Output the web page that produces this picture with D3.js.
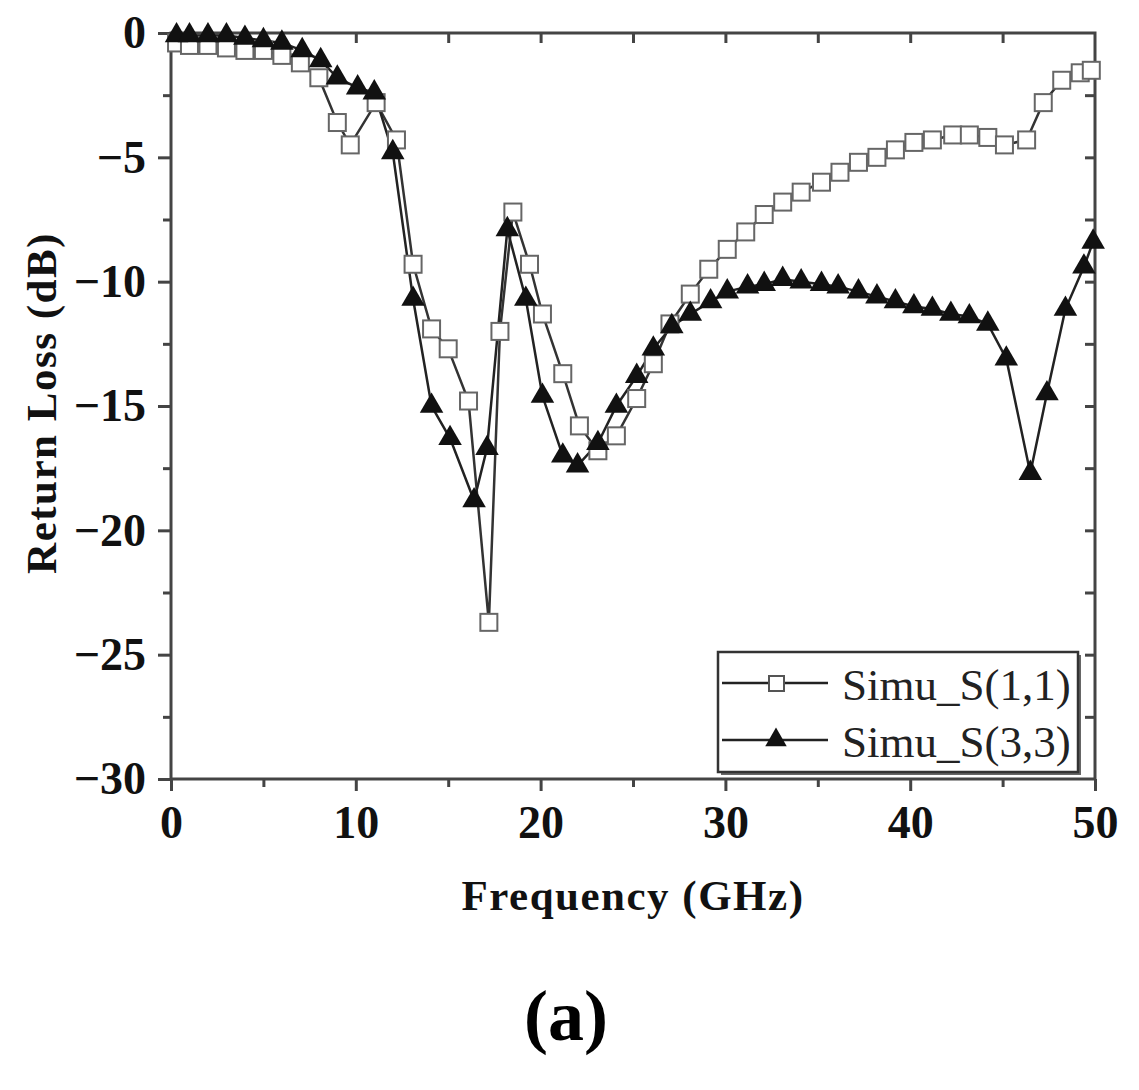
<!DOCTYPE html>
<html>
<head>
<meta charset="utf-8">
<script src="https://cdn.jsdelivr.net/npm/d3@7"></script>
<style>
  body { margin: 0; background: #fff; }
  svg { display: block; }
</style>
</head>
<body>
<div id="chart"></div>
<script>
// values (GHz, dB)
var s11Freq = [0.3, 1, 2, 3, 4, 5, 6, 7, 8, 9, 9.7, 11.1, 12.2, 13.1, 14.1, 15.0, 16.1, 17.2, 17.8, 18.5,
  19.4, 20.1, 21.2, 22.1, 23.1, 24.1, 25.2, 26.1, 27.0, 28.1, 29.1, 30.1, 31.1, 32.1, 33.1, 34.1,
  35.2, 36.2, 37.2, 38.2, 39.2, 40.2, 41.2, 42.3, 43.2, 44.2, 45.1, 46.3, 47.2, 48.2, 49.2, 49.8];
var s11Val = [-0.4, -0.5, -0.5, -0.6, -0.7, -0.7, -0.9, -1.2, -1.8, -3.6, -4.5, -2.8, -4.3, -9.3, -11.9, -12.7, -14.8, -23.7, -12.0, -7.2,
  -9.3, -11.3, -13.7, -15.8, -16.8, -16.2, -14.7, -13.3, -11.7, -10.5, -9.5, -8.7, -8.0, -7.3, -6.8, -6.4,
  -6.0, -5.6, -5.2, -5.0, -4.7, -4.4, -4.3, -4.1, -4.1, -4.2, -4.5, -4.3, -2.8, -1.9, -1.6, -1.5];

var s33Freq = [0.3, 1, 2, 3, 4, 5, 6, 7.1, 8.1, 9.0, 10.1, 11.0, 12.0, 13.1, 14.1, 15.1, 16.4, 17.1, 18.2,
  19.2, 20.1, 21.2, 22.0, 23.1, 24.1, 25.2, 26.1, 27.1, 28.1, 29.2, 30.1, 31.2, 32.1, 33.1, 34.1, 35.2,
  36.1, 37.2, 38.2, 39.2, 40.2, 41.2, 42.2, 43.2, 44.2, 45.2, 46.5, 47.4, 48.4, 49.4, 49.9];
var s33Val = [-0.1, -0.1, -0.1, -0.1, -0.2, -0.3, -0.4, -0.7, -1.1, -1.8, -2.2, -2.4, -4.8, -10.7, -15.0, -16.3, -18.8, -16.7, -7.9,
  -10.7, -14.6, -17.0, -17.4, -16.5, -15.0, -13.8, -12.7, -11.8, -11.3, -10.8, -10.4, -10.2, -10.1, -9.9, -10.0, -10.1,
  -10.2, -10.4, -10.6, -10.8, -11.0, -11.1, -11.3, -11.4, -11.7, -13.1, -17.7, -14.5, -11.1, -9.4, -8.4];

var seriesNames = ["Simu_S(1,1)", "Simu_S(3,3)"];
var xTicks = [0, 10, 20, 30, 40, 50];
var yTicks = [0, -5, -10, -15, -20, -25, -30];

var s11 = s11Freq.map(function(f, i) { return {f: f, v: s11Val[i]}; });
var s33 = s33Freq.map(function(f, i) { return {f: f, v: s33Val[i]}; });

var margin = {top: 33, right: 44, bottom: 311, left: 171},
    width = 1139 - margin.left - margin.right,
    height = 1090 - margin.top - margin.bottom;

var svg = d3.select("#chart")
  .append("svg")
    .attr("width", 1139)
    .attr("height", 1090)
  .append("g")
    .attr("transform", "translate(" + margin.left + "," + margin.top + ")");

var x = d3.scaleLinear().domain([0, 50]).range([0, width]);
var y = d3.scaleLinear().domain([-30, 0]).range([height, 0]);

var serif = "'Liberation Serif', 'Times New Roman', serif";
var axisColor = "#444";

function styleAxis(g) {
  g.select(".domain").remove();
  g.selectAll("line").attr("stroke", axisColor).attr("stroke-width", 3);
}

// minor ticks (outer axes)
svg.append("g")
  .attr("transform", "translate(0," + height + ")")
  .call(d3.axisBottom(x).tickValues(d3.range(5, 50, 10)).tickSize(8).tickFormat(""))
  .call(styleAxis);
svg.append("g")
  .call(d3.axisLeft(y).tickValues(d3.range(-27.5, 0, 5)).tickSize(8).tickFormat(""))
  .call(styleAxis);

// bottom axis
var xAxis = svg.append("g")
  .attr("transform", "translate(0," + height + ")")
  .call(d3.axisBottom(x).tickValues(xTicks).tickSize(12).tickPadding(14))
  .call(styleAxis);
xAxis.selectAll("text")
  .attr("font-family", serif).attr("font-weight", "bold")
  .attr("font-size", 46).attr("fill", "#111");

// left axis
var yAxis = svg.append("g")
  .call(d3.axisLeft(y).tickValues(yTicks).tickSize(13).tickPadding(12))
  .call(styleAxis);
yAxis.selectAll("text")
  .attr("font-family", serif).attr("font-weight", "bold")
  .attr("font-size", 46).attr("fill", "#111");

// top and right axes, ticks pointing in
svg.append("g")
  .call(d3.axisBottom(x).tickValues(d3.range(5, 50, 5)).tickSize(10).tickFormat(""))
  .call(styleAxis);
svg.append("g")
  .attr("transform", "translate(" + width + ",0)")
  .call(d3.axisLeft(y).tickValues(d3.range(-27.5, 0, 2.5)).tickSize(10).tickFormat(""))
  .call(styleAxis);

// frame
svg.append("rect")
  .attr("width", width).attr("height", height)
  .attr("fill", "none").attr("stroke", axisColor).attr("stroke-width", 3);

var line = d3.line()
  .x(function(d) { return x(d.f); })
  .y(function(d) { return y(d.v); });

var plot = svg.append("g");

plot.append("path").datum(s11)
  .attr("d", line).attr("fill", "none")
  .attr("stroke", "#333").attr("stroke-width", 2.5);
plot.append("path").datum(s33)
  .attr("d", line).attr("fill", "none")
  .attr("stroke", "#222").attr("stroke-width", 2.5);

var sq = 17;
plot.selectAll(".sq")
  .data(s11)
  .enter()
  .append("rect")
    .attr("x", function(d) { return x(d.f) - sq / 2; })
    .attr("y", function(d) { return y(d.v) - sq / 2; })
    .attr("width", sq).attr("height", sq)
    .attr("fill", "#fff").attr("stroke", "#666").attr("stroke-width", 2);

var tri = d3.symbol().type(d3.symbolTriangle).size(240);
plot.selectAll(".tri")
  .data(s33)
  .enter()
  .append("path")
    .attr("d", tri)
    .attr("transform", function(d) { return "translate(" + x(d.f) + "," + y(d.v) + ")"; })
    .attr("fill", "#111");

// legend
var lg = svg.append("g").attr("transform", "translate(547,619)");
lg.append("rect").attr("x", 3).attr("y", 3).attr("width", 360).attr("height", 120).attr("fill", "#666");
lg.append("rect").attr("width", 360).attr("height", 120)
  .attr("fill", "#fff").attr("stroke", "#333").attr("stroke-width", 2.5);

var rows = lg.selectAll(".row")
  .data(seriesNames)
  .enter()
  .append("g")
    .attr("transform", function(d, i) { return "translate(0," + (31 + i * 57) + ")"; });
rows.append("line")
  .attr("x1", 4).attr("x2", 110)
  .attr("stroke", "#222").attr("stroke-width", 2.5);
rows.filter(function(d, i) { return i == 0; })
  .append("rect")
    .attr("x", 51).attr("y", -7).attr("width", 15).attr("height", 15)
    .attr("fill", "#fff").attr("stroke", "#555").attr("stroke-width", 2);
rows.filter(function(d, i) { return i == 1; })
  .append("path")
    .attr("d", d3.symbol().type(d3.symbolTriangle).size(200))
    .attr("transform", "translate(58,0)")
    .attr("fill", "#111");
rows.append("text")
  .attr("x", 124).attr("y", 17)
  .attr("font-family", serif).attr("font-size", 45).attr("fill", "#222")
  .text(function(d) { return d; });

// axis titles
svg.append("text")
  .attr("x", 633 - margin.left).attr("y", 910 - margin.top)
  .attr("text-anchor", "middle")
  .attr("font-family", serif).attr("font-weight", "bold").attr("font-size", 43)
  .attr("letter-spacing", 1.5)
  .attr("fill", "#111")
  .text("Frequency (GHz)");

svg.append("text")
  .attr("transform", "translate(" + (56 - margin.left) + "," + (403 - margin.top) + ")rotate(-90)")
  .attr("text-anchor", "middle")
  .attr("font-family", serif).attr("font-weight", "bold").attr("font-size", 43)
  .attr("letter-spacing", 1.5)
  .attr("fill", "#111")
  .text("Return Loss (dB)");

svg.append("text")
  .attr("x", 566 - margin.left).attr("y", 1040 - margin.top)
  .attr("text-anchor", "middle")
  .attr("font-family", serif).attr("font-weight", "bold").attr("font-size", 72)
  .attr("fill", "#000")
  .text("(a)");
</script>
</body>
</html>
